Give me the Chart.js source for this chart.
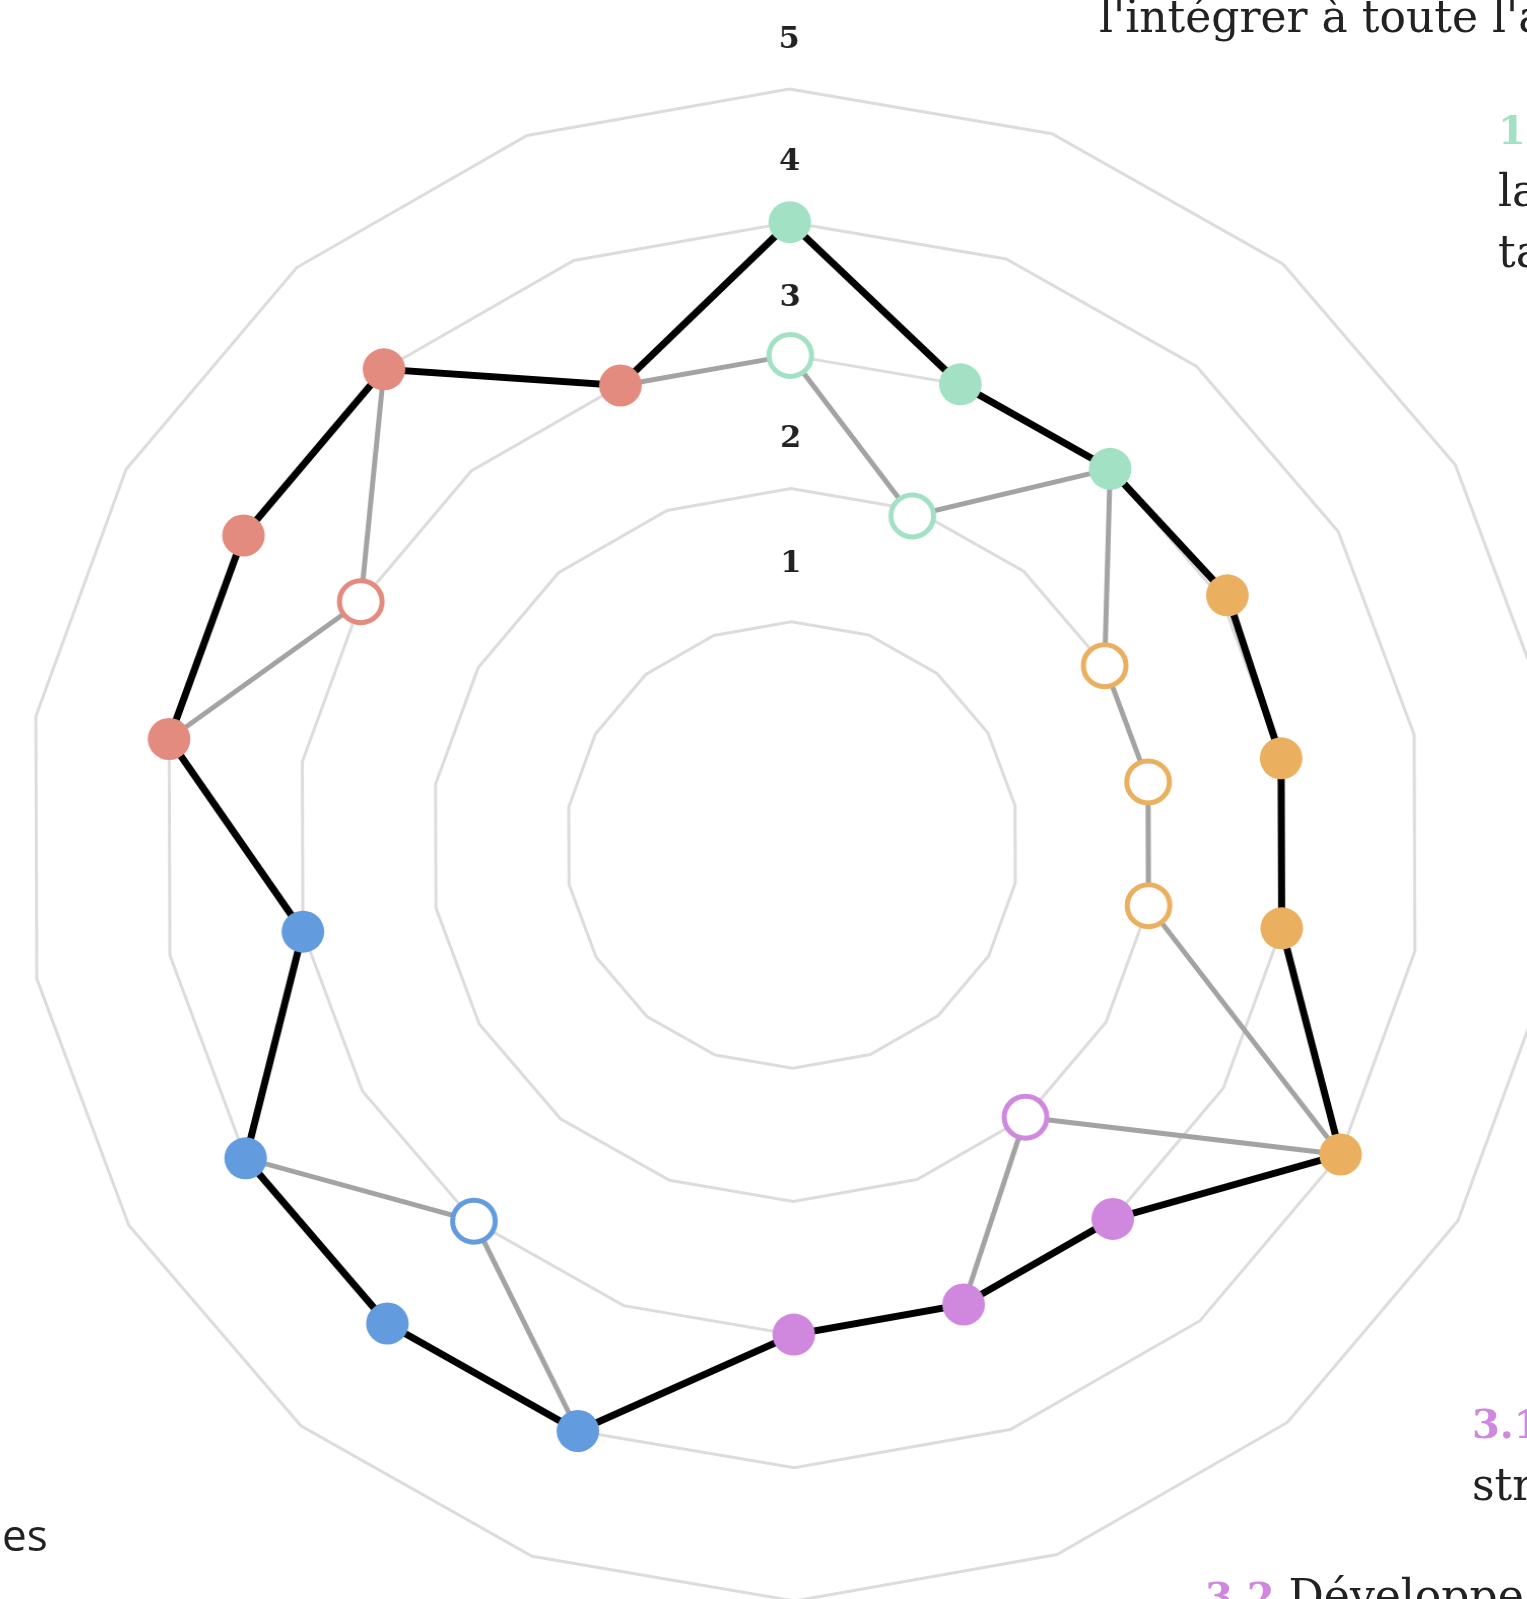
<!DOCTYPE html>
<html lang="fr">
<head>
<meta charset="utf-8">
<title>Radar</title>
<script src="https://cdn.jsdelivr.net/npm/chart.js@4"></script>
<style>
  html, body { margin: 0; padding: 0; width: 1527px; height: 1599px; overflow: hidden; background: #fff; }
  /* le graphique d'origine est légèrement étiré en largeur */
  #wrap { position: absolute; left: 0; top: 0; width: 1600px; height: 1700px; transform: scaleX(1.015); transform-origin: 792px 0; }
  .txt { position: absolute; font-family: "DejaVu Serif", serif; font-size: 44px; line-height: 61px; color: #222; white-space: nowrap; }
  .txt b { font-weight: bold; font-size: 40px; }
  .sans { font-family: "Open Sans", sans-serif; }
</style>
</head>
<body>
<div id="wrap"><canvas id="radar"></canvas></div>

<!-- libellés des axes, coupés par le bord de la page -->
<div class="txt" style="left:1099px; top:-14px;">l'intégrer à toute l'a</div>
<div class="txt" style="left:1498px; top:98px;"><b style="color:#a3e1c4">1.</b><br>la<br>ta</div>
<div class="txt" style="left:1472px; top:1392px;"><b style="color:#cf88de">3.1</b><br>str</div>
<div class="txt" style="left:1205px; top:1565px;"><b style="color:#cf88de">3.2</b> Développe</div>
<div class="txt sans" style="left:2px; top:1504px;">es</div>

<script>
// Axes (18 critères, regroupés par thème)
const categories = ['1.1','1.2','1.3','2.1','2.2','2.3','2.4','3.1','3.2','3.3','4.1','4.2','4.3','4.4','5.1','5.2','5.3','5.4'];
// Série pleine (trait noir)
const scoreValues = [4, 3, 3, 3.05, 3, 3, 4, 3, 3, 3, 4, 4, 4, 3, 4, 4, 4, 3];
// Série de comparaison (trait gris, points vides)
const refValues = [3, 1.95, 3, 2, 2, 2, 4, 2, 3, 3, 4, 3, 4, 3, 4, 3, 4, 3];
// Graduations
const tickValues = [1, 2, 3, 4, 5];

// Couleur de chaque thème
const themeColors = { '1': '#a3e1c4', '2': '#eaaf5f', '3': '#cf88de', '4': '#639bdf', '5': '#e28b7e' };
const pointColors = categories.map(c => themeColors[c.split('.')[0]]);

const scaleMin = -0.676;
// décalage vertical des étiquettes de graduation au-dessus de chaque anneau
const tickLift = { 1: 58, 2: 49, 3: 57, 4: 60, 5: 49 };

const tickLabelsPlugin = {
  id: 'tickLabels',
  afterDraw(chart) {
    const scale = chart.scales.r;
    const ctx = chart.ctx;
    ctx.save();
    ctx.font = 'bold 30px "DejaVu Serif", serif';
    ctx.fillStyle = '#222';
    ctx.textAlign = 'center';
    ctx.textBaseline = 'middle';
    tickValues.forEach(v => {
      const d = scale.getDistanceFromCenterForValue(v) + tickLift[v];
      const p = scale.getPointPosition(0, d);
      ctx.fillText(String(v), p.x, p.y);
    });
    ctx.restore();
  }
};

const ctx = document.getElementById('radar').getContext('2d');
const radar = new Chart(ctx, {
  type: 'radar',
  data: {
    labels: categories,
    datasets: [{
      label: 'Évaluation',
      data: scoreValues,
      borderColor: '#000',
      borderWidth: 7,
      backgroundColor: 'rgba(0,0,0,0)',
      fill: false,
      pointRadius: 21,
      pointHoverRadius: 21,
      pointBorderWidth: 0,
      pointBackgroundColor: pointColors
    }, {
      label: 'Référence',
      data: refValues,
      borderColor: '#a3a3a3',
      borderWidth: 5,
      backgroundColor: 'rgba(0,0,0,0)',
      fill: false,
      // pas de point vide là où les deux séries se confondent
      pointRadius: c => (refValues[c.dataIndex] === scoreValues[c.dataIndex] ? 0 : 21),
      pointHoverRadius: 21,
      pointBorderWidth: 5,
      pointBorderColor: pointColors,
      pointBackgroundColor: '#fff'
    }]
  },
  options: {
    responsive: true,
    maintainAspectRatio: false,
    animation: false,
    layout: { padding: { left: 36, top: 89, right: 52, bottom: 99 } },
    plugins: { legend: { display: false }, tooltip: { enabled: false } },
    scales: {
      r: {
        min: scaleMin,
        max: 5,
        startAngle: -0.2,
        angleLines: { display: false },
        pointLabels: { display: false },
        grid: {
          color: c => (c.index === 0 ? 'rgba(0,0,0,0)' : '#dcdcdc'),
          lineWidth: 3
        },
        ticks: { display: false },
        afterBuildTicks: s => {
          s.ticks = [scaleMin].concat(tickValues).map(v => ({ value: v }));
        }
      }
    }
  },
  plugins: [tickLabelsPlugin]
});
</script>
</body>
</html>
